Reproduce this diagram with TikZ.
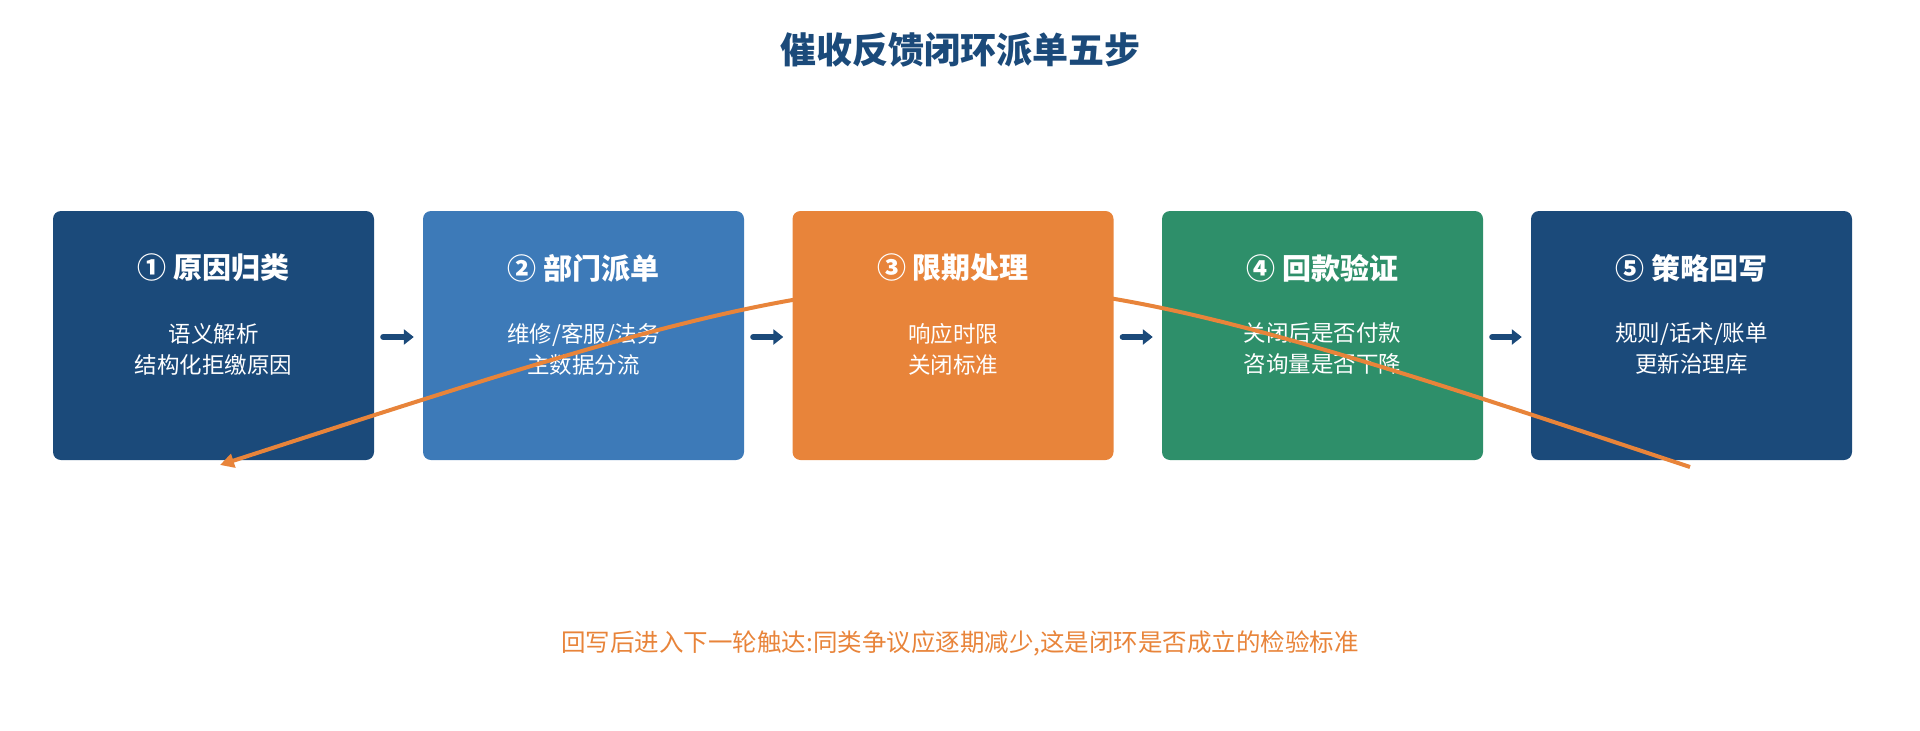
\documentclass[tikz,border=0pt]{standalone}
\usepackage{fontspec}
\setmainfont{Noto Sans CJK SC}
\usetikzlibrary{arrows.meta}
\definecolor{dblue}{HTML}{1B4A7A}
\definecolor{mblue}{HTML}{3D7AB8}
\definecolor{orng}{HTML}{E8843A}
\definecolor{grn}{HTML}{2E8F6A}
\begin{document}
\begin{tikzpicture}[x=1pt,y=-1pt,
  box/.style={rounded corners=8pt,minimum width=321pt,minimum height=249pt,inner sep=0pt},
  ttl/.style={text=white,font=\fontsize{29}{34}\selectfont\bfseries},
  bdy/.style={text=white,font=\fontsize{22.5}{31}\selectfont,align=center},
  steparrow/.style={-{Triangle[length=10pt,width=15pt]},line width=6pt,dblue,line cap=round}]
\useasboundingbox (0,0) rectangle (1920,731);
\node[text=dblue,font=\fontsize{36}{42}\selectfont\bfseries] (title) at (960,50) {催收反馈闭环派单五步};
\foreach \i/\x/\c/\t/\b in {1/213.5/dblue/{① 原因归类}/{语义解析\\结构化拒缴原因},
  2/583.5/mblue/{② 部门派单}/{维修/客服/法务\\主数据分流},
  3/953/orng/{③ 限期处理}/{响应时限\\关闭标准},
  4/1322.5/grn/{④ 回款验证}/{关闭后是否付款\\咨询量是否下降},
  5/1691.5/dblue/{⑤ 策略回写}/{规则/话术/账单\\更新治理库}}{
  \node[box,fill=\c] (b\i) at (\x,335.5) {};
  \node[ttl] (t\i) at (\x,268) {\t};
  \node[bdy] (d\i) at (\x,349) {\b};
}
\foreach \a/\b in {1/2,2/3,3/4,4/5}{
  \draw[steparrow] ([xshift=9pt,yshift=-1.5pt]b\a.east) -- ([xshift=-9pt,yshift=-1.5pt]b\b.west);
}
\coordinate (s) at (1690,467);
\coordinate (e) at (220,465);
\draw[orng,line width=4pt,-{Triangle[length=14pt,width=14pt]}] (s) .. controls (960,225) .. (e);
\node[text=orng,font=\fontsize{24.5}{30}\selectfont] (note) at (960,643) {回写后进入下一轮触达:同类争议应逐期减少,这是闭环是否成立的检验标准};
\end{tikzpicture}
\end{document}
